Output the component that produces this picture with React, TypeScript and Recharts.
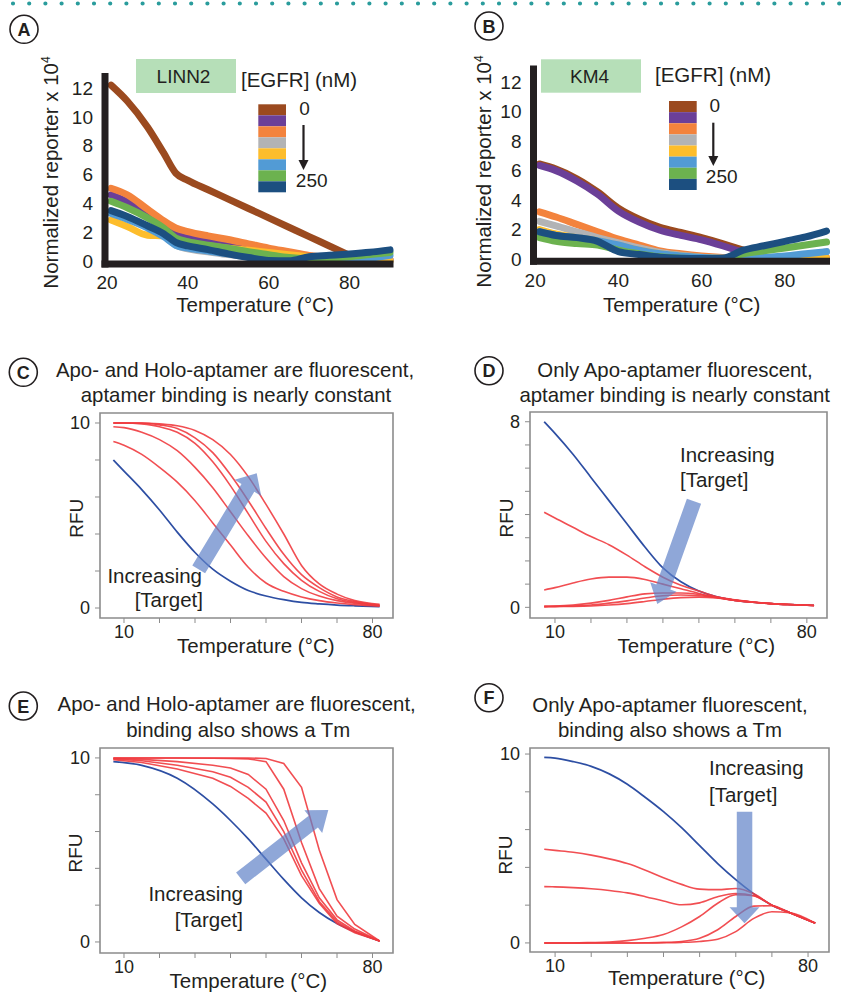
import React from 'react';
import { LineChart, Line, XAxis, YAxis, ReferenceArea } from 'recharts';

const FONT = '"Liberation Sans", Arial, Helvetica, sans-serif';
const INK = '#231f20';
const FRAME = '#8c8c8c';
const RED = '#ef3b3f';
const BLUE = '#2d4ea3';

// [EGFR] colours, 0 nM (top) down to 250 nM (bottom)
const egfrColors = ['#9b4a1f', '#6b3f98', '#f3833d', '#b2b3b5', '#fdbd2c', '#529bd5', '#6cb24f', '#1c4f80'];

// Panel A - LINN2 (normalized reporter x 10^4)
const tempA = [21, 25, 30, 34, 37, 40, 45, 50, 55, 60, 65, 70, 75, 80, 85, 90];
const linn2Brown = [12.2, 11.1, 9.3, 7.5, 6.1, 5.6, 4.95, 4.3, 3.65, 3.0, 2.35, 1.7, 1.05, 0.4, null, null];
const linn2Purple = [4.6, 4.1, 3.3, 2.4, 1.9, 1.75, 1.5, 1.3, 1.05, 0.8, 0.55, 0.35, 0.2, 0.15, 0.1, 0.1];
const linn2Orange = [5.05, 4.6, 3.6, 2.8, 2.3, 2.05, 1.75, 1.5, 1.2, 0.9, 0.65, 0.4, 0.25, 0.2, 0.15, 0.1];
const linn2Gray = [3.4, 3.0, 2.4, 1.8, 1.1, 0.85, 0.65, 0.45, 0.3, 0.15, 0.05, 0.0, 0.0, 0.0, 0.0, 0.0];
const linn2Yellow = [2.85, 2.4, 1.8, 1.75, 1.45, 1.25, 1.05, 0.9, 0.75, 0.6, 0.45, 0.3, 0.15, 0.05, 0.02, 0.0];
const linn2Sky = [3.3, 2.9, 2.3, 1.7, 1.1, 0.9, 0.7, 0.5, 0.3, 0.15, 0.05, 0.0, 0.02, 0.05, 0.2, 0.4];
const linn2Green = [4.15, 3.7, 3.0, 2.3, 1.6, 1.35, 1.1, 0.9, 0.65, 0.45, 0.25, 0.15, 0.2, 0.3, 0.45, 0.6];
const linn2Navy = [3.5, 3.1, 2.45, 1.9, 1.3, 1.05, 0.8, 0.5, 0.25, 0.05, 0.02, 0.3, 0.4, 0.5, 0.62, 0.78];

// Panel B - KM4
const tempB = [21, 25, 30, 35, 40, 45, 50, 55, 60, 65, 70, 75, 80, 85, 90];
const km4Brown = [6.45, 6.1, 5.45, 4.55, 3.45, 2.7, 2.15, 1.8, 1.45, 1.05, 0.6, null, null, null, null];
const km4Purple = [6.35, 6.0, 5.3, 4.4, 3.25, 2.5, 1.95, 1.6, 1.3, 0.9, 0.45, null, null, null, null];
const km4Orange = [3.2, 2.85, 2.35, 1.85, 1.35, 0.95, 0.55, 0.35, 0.2, 0.1, 0.05, 0.02, 0.0, 0.05, 0.1];
const km4Gray = [2.55, 2.25, 1.85, 1.45, 1.1, 0.75, 0.45, 0.25, 0.12, 0.05, 0.0, 0.0, 0.05, 0.2, 0.5];
const km4Yellow = [2.0, 1.7, 1.45, 1.25, 0.9, 0.6, 0.35, 0.2, 0.1, 0.05, 0.02, 0.0, 0.0, 0.02, 0.05];
const km4Sky = [1.85, 1.6, 1.45, 1.25, 0.95, 0.6, 0.35, 0.2, 0.1, 0.05, 0.05, 0.1, 0.2, 0.35, 0.5];
const km4Green = [1.45, 1.2, 1.05, 0.95, 0.6, 0.35, 0.15, 0.05, 0.02, 0.02, 0.35, 0.55, 0.75, 0.95, 1.15];
const km4Navy = [1.85, 1.6, 1.45, 1.2, 0.5, 0.3, 0.12, 0.05, 0.03, 0.05, 0.6, 0.9, 1.2, 1.5, 1.9];

// Panels C, D, F share a temperature grid
const tempMelt = [7, 10, 15, 20, 25, 30, 35, 40, 45, 50, 55, 60, 65, 70, 75, 82];

// C - apo and holo both fluorescent, constant binding
const apoC = [8.0, 7.4, 6.4, 5.3, 4.1, 3.0, 2.1, 1.45, 0.95, 0.65, 0.45, 0.3, 0.22, 0.16, 0.12, 0.08];
const holoC1 = [9.0, 8.8, 8.3, 7.6, 6.8, 5.8, 4.6, 3.4, 2.2, 1.35, 0.9, 0.6, 0.4, 0.27, 0.18, 0.1];
const holoC2 = [9.8, 9.75, 9.5, 9.1, 8.5, 7.6, 6.5, 5.2, 3.9, 2.7, 1.7, 1.05, 0.65, 0.4, 0.25, 0.12];
const holoC3 = [10.0, 10.0, 9.95, 9.8, 9.5, 8.9, 7.9, 6.6, 5.1, 3.6, 2.4, 1.5, 0.9, 0.5, 0.3, 0.15];
const holoC4 = [10.0, 10.0, 10.0, 9.9, 9.7, 9.2, 8.4, 7.2, 5.8, 4.3, 2.9, 1.8, 1.1, 0.6, 0.35, 0.15];
const holoC5 = [10.0, 10.0, 10.0, 9.95, 9.85, 9.6, 9.1, 8.3, 7.1, 5.6, 4.0, 2.3, 1.3, 0.75, 0.4, 0.2];

// D - only apo fluorescent, constant binding
const apoD = [8.0, 7.5, 6.6, 5.6, 4.6, 3.6, 2.6, 1.7, 1.1, 0.7, 0.45, 0.3, 0.22, 0.16, 0.12, 0.08];
const holoD1 = [4.1, 3.85, 3.45, 3.05, 2.7, 2.25, 1.75, 1.3, 0.95, 0.7, 0.45, 0.3, 0.22, 0.16, 0.12, 0.08];
const holoD2 = [0.75, 0.85, 1.05, 1.22, 1.3, 1.3, 1.2, 1.0, 0.8, 0.6, 0.42, 0.3, 0.22, 0.16, 0.12, 0.08];
const holoD3 = [0.05, 0.06, 0.1, 0.18, 0.3, 0.45, 0.58, 0.62, 0.62, 0.56, 0.44, 0.32, 0.23, 0.16, 0.12, 0.08];
const holoD4 = [0.03, 0.04, 0.06, 0.1, 0.18, 0.28, 0.4, 0.5, 0.53, 0.5, 0.42, 0.31, 0.23, 0.16, 0.12, 0.08];
const holoD5 = [0.02, 0.03, 0.04, 0.06, 0.1, 0.16, 0.25, 0.35, 0.42, 0.44, 0.4, 0.3, 0.22, 0.16, 0.12, 0.08];

// E - apo and holo fluorescent, binding shows a Tm
const tempE = [7, 15, 25, 35, 40, 45, 50, 55, 60, 65, 70, 75, 82];
const apoE = [9.8, 9.6, 8.9, 7.5, 6.6, 5.6, 4.5, 3.4, 2.4, 1.6, 1.0, 0.55, 0.05];
const holoE1 = [9.9, 9.75, 9.4, 8.9, 8.45, 7.8, 7.0, 5.6, 3.6, 2.1, 1.0, 0.5, 0.05];
const holoE2 = [9.95, 9.85, 9.6, 9.25, 8.95, 8.4, 7.6, 6.0, 3.9, 2.2, 1.1, 0.55, 0.05];
const holoE3 = [9.97, 9.92, 9.8, 9.6, 9.45, 9.1, 8.3, 6.6, 4.3, 2.4, 1.2, 0.6, 0.05];
const holoE4 = [10, 10, 10, 9.98, 9.97, 9.95, 9.8, 8.3, 5.4, 2.9, 1.4, 0.7, 0.05];
const holoE5 = [10, 10, 10, 10, 10, 10, 9.97, 9.7, 8.4, 5.0, 2.3, 0.95, 0.05];

// F - only apo fluorescent, binding shows a Tm
const apoF = [9.82, 9.78, 9.6, 9.35, 8.95, 8.4, 7.7, 6.95, 6.1, 5.15, 4.2, 3.35, 2.6, 2.0, 1.6, 1.05];
const holoF1 = [4.96, 4.9, 4.8, 4.65, 4.45, 4.2, 3.85, 3.45, 3.1, 2.85, 2.82, 2.88, 2.6, 2.0, 1.6, 1.05];
const holoF2 = [2.98, 2.97, 2.93, 2.87, 2.78, 2.65, 2.45, 2.22, 2.02, 2.12, 2.45, 2.62, 2.5, 2.0, 1.6, 1.05];
const holoF3 = [0, 0, 0, 0.02, 0.05, 0.12, 0.25, 0.45, 0.85, 1.4, 2.1, 2.55, 2.5, 2.0, 1.6, 1.05];
const holoF4 = [0, 0, 0, 0, 0, 0, 0.01, 0.03, 0.08, 0.25, 0.7, 1.4, 1.95, 1.97, 1.6, 1.05];
const holoF5 = [0, 0, 0, 0, 0, 0, 0, 0.01, 0.03, 0.08, 0.2, 0.6, 1.3, 1.65, 1.6, 1.05];

const ticksEgfrX = [20, 40, 60, 80];
const ticksEgfrY = [0, 2, 4, 6, 8, 10, 12];
const ticksMeltX = [10, 20, 30, 40, 50, 60, 70, 80];

type Row = Record<string, number | null>;

function toRows(temps: number[], series: (number | null)[][]): Row[] {
  return temps.map((t, i) => {
    const row: Row = { t };
    series.forEach((s, k) => {
      row['s' + k] = s[i];
    });
    return row;
  });
}

const rowsA = toRows(tempA, [linn2Brown, linn2Purple, linn2Orange, linn2Gray, linn2Yellow, linn2Sky, linn2Green, linn2Navy]);
const rowsB = toRows(tempB, [km4Brown, km4Purple, km4Orange, km4Gray, km4Yellow, km4Sky, km4Green, km4Navy]);
const rowsC = toRows(tempMelt, [apoC, holoC1, holoC2, holoC3, holoC4, holoC5]);
const rowsD = toRows(tempMelt, [apoD, holoD1, holoD2, holoD3, holoD4, holoD5]);
const rowsE = toRows(tempE, [apoE, holoE1, holoE2, holoE3, holoE4, holoE5]);
const rowsF = toRows(tempMelt, [apoF, holoF1, holoF2, holoF3, holoF4, holoF5]);

type Margin = { top: number; right: number; bottom: number; left: number };

function EgfrChart(props: { left: number; top: number; width: number; height: number; margin: Margin; rows: Row[]; xDomain: number[]; yDomain: number[] }) {
  const { left, top, width, height, margin, rows, xDomain, yDomain } = props;
  const axis = { stroke: INK, strokeWidth: 7, strokeLinecap: 'square' as const };
  return (
    <div style={{ position: 'absolute', left, top }}>
      <LineChart width={width} height={height} data={rows} margin={margin}>
        <XAxis type="number" dataKey="t" domain={xDomain} ticks={ticksEgfrX} height={40} tickLine={false}
          axisLine={axis} tick={{ fill: INK, fontSize: 19 }} tickMargin={6} />
        <YAxis type="number" domain={yDomain} ticks={ticksEgfrY} width={60} tickLine={false}
          axisLine={axis} tick={{ fill: INK, fontSize: 19 }} tickMargin={6} />
        {egfrColors.map((c, k) => (
          <Line key={k} type="monotone" dataKey={'s' + k} stroke={c} strokeWidth={7} strokeLinecap="round"
            strokeLinejoin="round" dot={false} activeDot={false} isAnimationActive={false} />
        ))}
      </LineChart>
    </div>
  );
}

function RfuChart(props: {
  left: number; top: number; width: number; height: number; margin: Margin; rows: Row[];
  xDomain: number[]; yDomain: number[]; yTicks: number[]; yShown: number[]; redType: 'monotone' | 'linear';
}) {
  const { left, top, width, height, margin, rows, xDomain, yDomain, yTicks, yShown, redType } = props;
  return (
    <div style={{ position: 'absolute', left, top }}>
      <LineChart width={width} height={height} data={rows} margin={margin}>
        <XAxis type="number" dataKey="t" domain={xDomain} ticks={ticksMeltX} height={30} axisLine={false}
          tickLine={{ stroke: FRAME }} tickSize={5} tickMargin={2} tick={{ fill: INK, fontSize: 18 }}
          tickFormatter={(v: number) => (v === 10 || v === 80 ? String(v) : '')} />
        <YAxis type="number" domain={yDomain} ticks={yTicks} width={40} axisLine={false}
          tickLine={{ stroke: FRAME }} tickSize={5} tickMargin={5} tick={{ fill: INK, fontSize: 18 }}
          tickFormatter={(v: number) => (yShown.includes(v) ? String(v) : '')} />
        <ReferenceArea x1={xDomain[0]} x2={xDomain[1]} y1={yDomain[0]} y2={yDomain[1]}
          fill="#ffffff" fillOpacity={0} stroke={FRAME} strokeWidth={1.6} />
        <Line type="monotone" dataKey="s0" stroke={BLUE} strokeWidth={1.7} dot={false} activeDot={false} isAnimationActive={false} />
        {[1, 2, 3, 4, 5].map((k) => (
          <Line key={k} type={redType} dataKey={'s' + k} stroke={RED} strokeWidth={1.6} strokeOpacity={0.9}
            dot={false} activeDot={false} isAnimationActive={false} />
        ))}
      </LineChart>
    </div>
  );
}

// fat annotation arrow, tail -> tip
function arrowPoints(x1: number, y1: number, x2: number, y2: number, shaft: number, head: number, headLen: number) {
  const len = Math.hypot(x2 - x1, y2 - y1);
  const ux = (x2 - x1) / len;
  const uy = (y2 - y1) / len;
  const px = -uy;
  const py = ux;
  const bx = x2 - ux * headLen;
  const by = y2 - uy * headLen;
  const s = shaft / 2;
  const h = head / 2;
  const pts = [
    [x1 + px * s, y1 + py * s],
    [bx + px * s, by + py * s],
    [bx + px * h, by + py * h],
    [x2, y2],
    [bx - px * h, by - py * h],
    [bx - px * s, by - py * s],
    [x1 - px * s, y1 - py * s],
  ];
  return pts.map((p) => p[0].toFixed(1) + ',' + p[1].toFixed(1)).join(' ');
}

const PanelTag = ({ x, y, letter }: { x: number; y: number; letter: string }) => (
  <g>
    <circle cx={x} cy={y} r={14} fill="#fff" stroke={INK} strokeWidth={1.6} />
    <text x={x} y={y + 6.5} textAnchor="middle" fontSize={18} fontWeight="bold" fill={INK}>{letter}</text>
  </g>
);

const T = ({ x, y, anchor = 'middle', size = 20.5, children }: { x: number; y: number; anchor?: string; size?: number; children: React.ReactNode }) => (
  <text x={x} y={y} textAnchor={anchor as any} fontSize={size} fill={INK}>{children}</text>
);

const VLabel = ({ x, y, size = 20.5, children }: { x: number; y: number; size?: number; children: React.ReactNode }) => (
  <text transform={`translate(${x},${y}) rotate(-90)`} textAnchor="middle" fontSize={size} fill={INK}>{children}</text>
);

function Legend({ x, y, step, zeroX, zeroY, arrowX, arrowTop, arrowTip, lastX, lastY }: {
  x: number; y: number; step: number; zeroX: number; zeroY: number; arrowX: number; arrowTop: number; arrowTip: number; lastX: number; lastY: number;
}) {
  return (
    <g>
      {egfrColors.map((c, k) => (
        <rect key={k} x={x} y={y + k * step} width={27.7} height={step} fill={c} />
      ))}
      <T x={zeroX} y={zeroY} size={19}>0</T>
      <line x1={arrowX} y1={arrowTop} x2={arrowX} y2={arrowTip - 9} stroke={INK} strokeWidth={2.2} />
      <polygon points={`${arrowX - 5},${arrowTip - 10} ${arrowX + 5},${arrowTip - 10} ${arrowX},${arrowTip}`} fill={INK} />
      <T x={lastX} y={lastY} size={19}>250</T>
    </g>
  );
}

const ARROW = '#5f82c8';

export default function App() {
  return (
    <div style={{ position: 'relative', width: 841, height: 992, fontFamily: FONT, background: '#fff', overflow: 'hidden' }}>
      <style>{'body{margin:0}'}</style>

      <EgfrChart left={0} top={0} width={420} height={320}
        margin={{ top: 76.5, right: 30, bottom: 16, left: 45 }} rows={rowsA} xDomain={[19.5, 90]} yDomain={[-0.2, 12.8]} />
      <EgfrChart left={420} top={0} width={421} height={320}
        margin={{ top: 69, right: 14.5, bottom: 18.8, left: 53.5 }} rows={rowsB} xDomain={[19.6, 90]} yDomain={[-0.15, 12.9]} />

      <RfuChart left={0} top={320} width={420} height={340} margin={{ top: 93, right: 27, bottom: 12, left: 60 }}
        rows={rowsC} xDomain={[3.24, 85.77]} yDomain={[-0.54, 10.54]} yTicks={[0, 2, 4, 6, 8, 10]} yShown={[0, 10]} redType="monotone" />
      <RfuChart left={420} top={320} width={421} height={340} margin={{ top: 92, right: 14, bottom: 12, left: 70 }}
        rows={rowsD} xDomain={[3.06, 85.6]} yDomain={[-0.46, 8.42]} yTicks={[0, 1, 2, 3, 4, 5, 6, 7, 8]} yShown={[0, 8]} redType="monotone" />
      <RfuChart left={0} top={660} width={420} height={332} margin={{ top: 88, right: 27, bottom: 9, left: 60 }}
        rows={rowsE} xDomain={[3.24, 85.77]} yDomain={[-0.6, 10.54]} yTicks={[0, 2, 4, 6, 8, 10]} yShown={[0, 10]} redType="linear" />
      <RfuChart left={420} top={660} width={421} height={332} margin={{ top: 88, right: 12, bottom: 10, left: 70 }}
        rows={rowsF} xDomain={[3.06, 85.8]} yDomain={[-0.48, 10.32]} yTicks={[0, 2, 4, 6, 8, 10]} yShown={[0, 10]} redType="monotone" />

      <svg width={841} height={992} style={{ position: 'absolute', left: 0, top: 0, pointerEvents: 'none', fontFamily: FONT }}>
        <line x1={13} y1={3.5} x2={841} y2={3.5} stroke="#2a9c9c" strokeWidth={4.2} strokeLinecap="round" strokeDasharray="0 16.2" />

        {/* A */}
        <PanelTag x={24} y={29.3} letter="A" />
        <rect x={136} y={59} width={100} height={34} fill="#b6dfb8" />
        <T x={183.5} y={83.3} size={19}>LINN2</T>
        <T x={241} y={87.3} anchor="start">[EGFR] (nM)</T>
        <Legend x={258.3} y={104.3} step={11} zeroX={304.5} zeroY={115} arrowX={303.5} arrowTop={125} arrowTip={170} lastX={311.7} lastY={186.5} />
        <VLabel x={58} y={172.5}>Normalized reporter x 10<tspan dy={-8} fontSize={12}>4</tspan></VLabel>
        <T x={255} y={312.3}>Temperature (°C)</T>

        {/* B */}
        <PanelTag x={489} y={26} letter="B" />
        <rect x={541} y={59.3} width={100} height={33.4} fill="#b6dfb8" />
        <T x={589.5} y={83.3} size={19}>KM4</T>
        <T x={655} y={82.3} anchor="start">[EGFR] (nM)</T>
        <Legend x={669} y={101} step={11.125} zeroX={714.7} zeroY={111.7} arrowX={713.3} arrowTop={122.7} arrowTip={166} lastX={721.7} lastY={183.3} />
        <VLabel x={491} y={171.5}>Normalized reporter x 10<tspan dy={-8} fontSize={12}>4</tspan></VLabel>
        <T x={681.7} y={312.3}>Temperature (°C)</T>

        {/* C */}
        <PanelTag x={23.3} y={372.3} letter="C" />
        <T x={235} y={377} size={20.4}>Apo- and Holo-aptamer are fluorescent,</T>
        <T x={236} y={401.7} size={20.4}>aptamer binding is nearly constant</T>
        <VLabel x={83.3} y={518.3} size={19}>RFU</VLabel>
        <T x={255.8} y={653.3}>Temperature (°C)</T>
        <polygon points={arrowPoints(198.7, 569.3, 256.7, 473.3, 15, 31, 17)} fill={ARROW} fillOpacity={0.7} />
        <T x={202} y={583.3} anchor="end">Increasing</T>
        <T x={203} y={607} anchor="end">[Target]</T>

        {/* D */}
        <PanelTag x={489} y={370.7} letter="D" />
        <T x={675} y={376.7} size={20.4}>Only Apo-aptamer fluorescent,</T>
        <T x={674.7} y={402} size={20.4}>aptamer binding is nearly constant</T>
        <VLabel x={513.3} y={518} size={19}>RFU</VLabel>
        <T x={696.3} y={653.3}>Temperature (°C)</T>
        <polygon points={arrowPoints(694, 501.3, 657.3, 604, 15, 28, 18)} fill={ARROW} fillOpacity={0.7} />
        <T x={680} y={461.7} anchor="start">Increasing</T>
        <T x={680} y={486.7} anchor="start">[Target]</T>

        {/* E */}
        <PanelTag x={23.3} y={706} letter="E" />
        <T x={236.7} y={710.7} size={20.4}>Apo- and Holo-aptamer are fluorescent,</T>
        <T x={238.3} y={736.7} size={20.4}>binding also shows a Tm</T>
        <VLabel x={82} y={853} size={19}>RFU</VLabel>
        <T x={248.3} y={988.3}>Temperature (°C)</T>
        <polygon points={arrowPoints(240.7, 878.3, 328.3, 810, 15, 29, 19)} fill={ARROW} fillOpacity={0.7} />
        <T x={243} y={900.7} anchor="end">Increasing</T>
        <T x={243} y={926.7} anchor="end">[Target]</T>

        {/* F */}
        <PanelTag x={489} y={697.7} letter="F" />
        <T x={670} y={711.7} size={20.4}>Only Apo-aptamer fluorescent,</T>
        <T x={670} y={736.7} size={20.4}>binding also shows a Tm</T>
        <VLabel x={512} y={855} size={19}>RFU</VLabel>
        <T x={686.7} y={985}>Temperature (°C)</T>
        <polygon points={arrowPoints(744.5, 811.7, 744.5, 923.3, 15.5, 30, 16)} fill={ARROW} fillOpacity={0.7} />
        <T x={709} y={775} anchor="start">Increasing</T>
        <T x={709} y={801.7} anchor="start">[Target]</T>
      </svg>
    </div>
  );
}
